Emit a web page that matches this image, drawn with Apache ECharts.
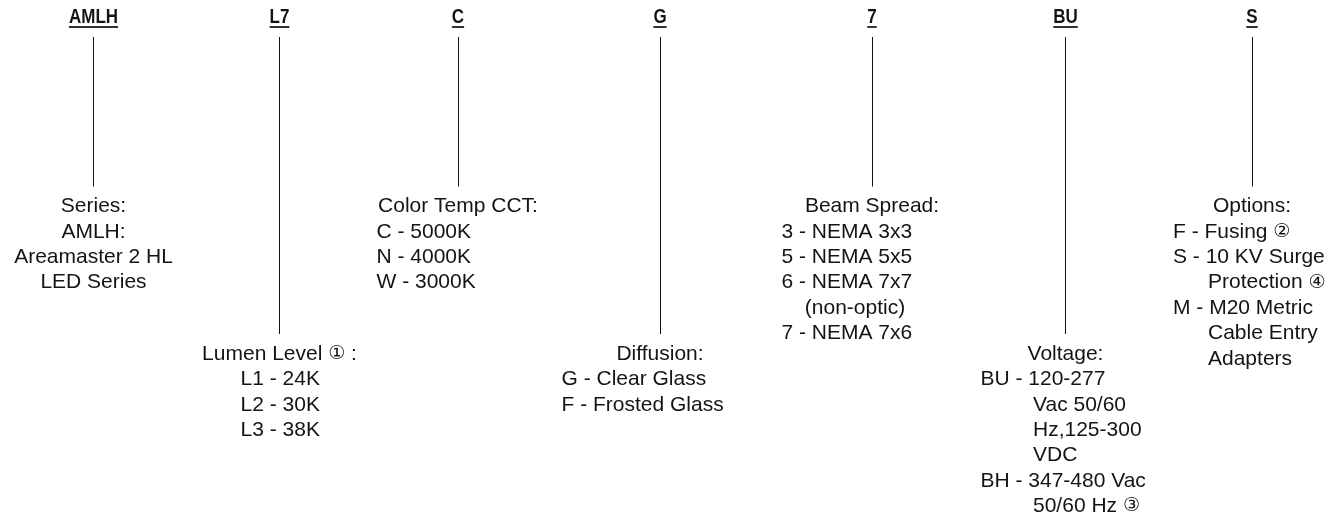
<!DOCTYPE html>
<html><head><meta charset="utf-8">
<script src="https://cdn.jsdelivr.net/npm/echarts@6/dist/echarts.min.js"></script>
<style>html,body{margin:0;padding:0;background:#fff}#chart{width:1338px;height:519px}</style>
</head><body><div id="chart"></div>
<script>
// ---- data ----
const codes = ['AMLH', 'L7', 'C', 'G', '7', 'BU', 'S'];
const codePos = [93.5, 279.5, 458, 660, 872, 1065.5, 1252];      // column centre along the code strip (x axis units)
const leaderEnd = [186.5, 334, 186.5, 334, 186.5, 334, 186.5];   // where each leader stops (y axis units)
const titles = ['Series:', 'Lumen Level \u2460 :', 'Color Temp CCT:', 'Diffusion:', 'Beam Spread:', 'Voltage:', 'Options:'];
const items = [
  ['AMLH:', 'Areamaster 2 HL', 'LED Series'],
  ['L1 - 24K', 'L2 - 30K', 'L3 - 38K'],
  ['C - 5000K', 'N - 4000K', 'W - 3000K'],
  ['G - Clear Glass', 'F - Frosted Glass'],
  ['3 - NEMA 3x3', '5 - NEMA 5x5', '6 - NEMA 7x7', '    (non-optic)', '7 - NEMA 7x6'],
  ['BU - 120-277', '         Vac 50/60', '         Hz,125-300', '         VDC', 'BH - 347-480 Vac', '         50/60 Hz \u2462'],
  ['F - Fusing \u2461', 'S - 10 KV Surge', '      Protection \u2463', 'M - M20 Metric', '      Cable Entry', '      Adapters']
];

// ---- layout / style ----
const layout = {
  codeY: 17, underlineY: 27, leaderTop: 37,
  titleGap: 20, lineStep: 25.4, codeSqueeze: 0.85,
  bodyIndent: [null, -39, -81.5, -98.5, -90.5, -85, -79]   // null = centred lines
};
const codeFont = 'bold 20px "Liberation Sans", Arial, Helvetica, sans-serif';
const textFont = '21px "Liberation Sans", Arial, Helvetica, "DejaVu Sans", sans-serif';
const circFont = '19px "DejaVu Sans", "Noto Sans CJK JP", sans-serif';
const ink = '#141414';

const measureCtx = document.createElement('canvas').getContext('2d');
function textWidth(t, f) { measureCtx.font = f; return measureCtx.measureText(t).width; }
function rich(t) { return t.replace(/([\u2460-\u2473])/g, '{c|$1}'); }
const richStyle = { c: { font: circFont, fill: ink } };

const chart = echarts.init(document.getElementById('chart'), null, { renderer: 'canvas' });

function renderItem(params, api) {
  const i = params.dataIndex;
  const xv = api.value(0), endV = api.value(1);
  const pCode = api.coord([xv, layout.codeY]);
  const pUnder = api.coord([xv, layout.underlineY]);
  const pTop = api.coord([xv, layout.leaderTop]);
  const pEnd = api.coord([xv, endV]);
  const cx = pCode[0];
  const lx = Math.round(cx - 0.5) + 0.5;
  const w = textWidth(codes[i], codeFont) * layout.codeSqueeze;
  const children = [
    { type: 'text', x: cx, y: pCode[1], scaleX: layout.codeSqueeze,
      style: { text: codes[i], x: 0, y: 0, font: codeFont, fill: ink, align: 'center', verticalAlign: 'middle' } },
    { type: 'line', shape: { x1: cx - w / 2, y1: pUnder[1], x2: cx + w / 2, y2: pUnder[1] }, style: { stroke: '#333', lineWidth: 2 } },
    { type: 'line', shape: { x1: lx, y1: pTop[1], x2: lx, y2: pEnd[1] }, style: { stroke: '#111', lineWidth: 1 } }
  ];
  const titleY = api.coord([xv, endV + layout.titleGap])[1];
  children.push({ type: 'text', style: { text: rich(titles[i]), rich: richStyle, x: cx, y: titleY, font: textFont, fill: ink, align: 'center', verticalAlign: 'middle' } });
  const indent = layout.bodyIndent[i];
  items[i].forEach((line, k) => {
    const ly = api.coord([xv, endV + layout.titleGap + (k + 1) * layout.lineStep])[1];
    children.push({
      type: 'text',
      style: {
        text: rich(line), rich: richStyle, x: indent === null ? cx : cx + indent, y: ly, font: textFont, fill: ink,
        align: indent === null ? 'center' : 'left', verticalAlign: 'middle'
      }
    });
  });
  return { type: 'group', children };
}

chart.setOption({
  animation: false,
  backgroundColor: '#ffffff',
  grid: { left: 0, right: 0, top: 0, bottom: 0 },
  xAxis: { type: 'value', min: 0, max: 1338, show: false },
  yAxis: { type: 'value', min: 0, max: 519, inverse: true, show: false },
  series: [{
    type: 'custom',
    renderItem,
    clip: false,
    silent: true,
    encode: { x: 0, y: 1 },
    data: codes.map((c, i) => [codePos[i], leaderEnd[i]])
  }]
});
</script>
</body></html>
